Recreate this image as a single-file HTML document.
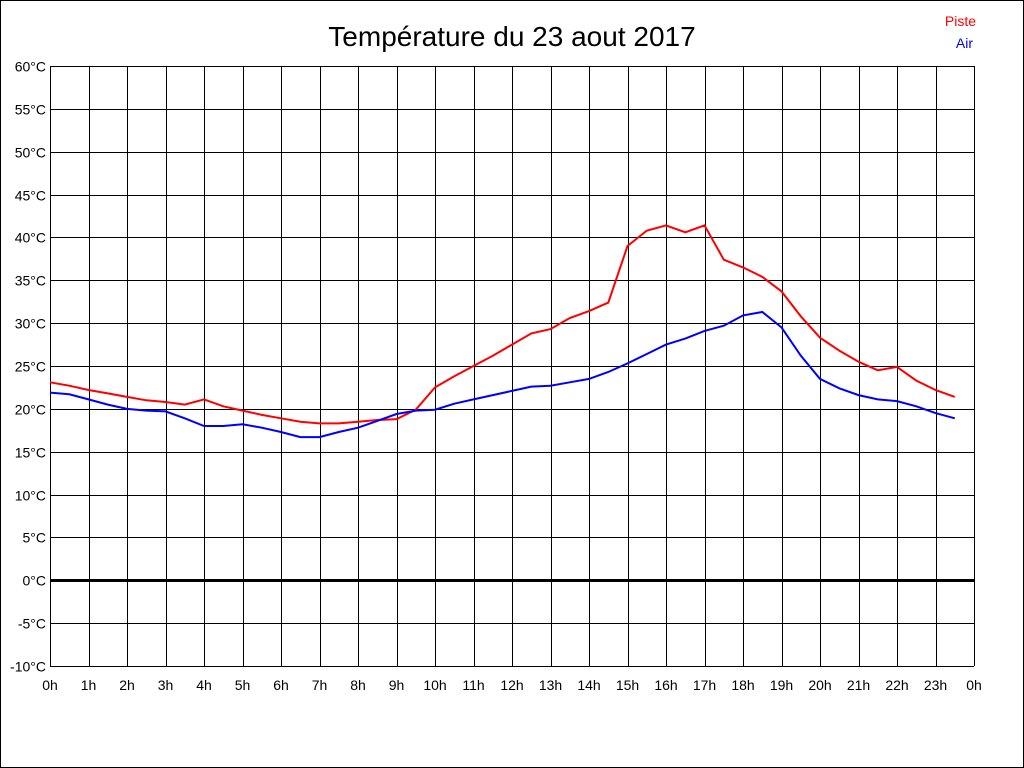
<!DOCTYPE html>
<html><head><meta charset="utf-8"><style>
html,body{margin:0;padding:0;background:#fff}
svg{display:block}
text{font-family:"Liberation Sans",sans-serif}
</style></head><body>
<svg id="s" width="1024" height="768" xmlns="http://www.w3.org/2000/svg">
<rect x="0.5" y="0.5" width="1023" height="767" fill="#fff" stroke="#000"/>
<text x="512" y="46" text-anchor="middle" font-size="28">Température du 23 aout 2017</text>
<text x="976" y="26" text-anchor="end" font-size="14" fill="#f00">Piste</text>
<text x="973" y="48" text-anchor="end" font-size="14" fill="#00f">Air</text>
<g id="g"></g>
</svg>
<script>
var g=document.getElementById('g'),h='';
var X0=50,X1=974,Y0=66,Y1=666;
function X(t){return X0+t*38.5}
function Y(v){return Y0+(60-v)*600/70}
for(var i=0;i<=24;i++){var x=Math.round(X(i))+0.5;h+='<line x1="'+x+'" y1="'+Y0+'" x2="'+x+'" y2="'+Y1+'" stroke="#000"/>';
h+='<text x="'+(X(i))+'" y="690" text-anchor="middle" font-size="14">'+(i%24)+'h</text>';}
for(var v=-10;v<=60;v+=5){var y=Math.round(Y(v))+0.5;h+='<line x1="'+X0+'" y1="'+y+'" x2="'+X1+'" y2="'+y+'" stroke="#000" stroke-width="'+(v==0?3:1)+'"/>';
h+='<text x="46" y="'+(y+5)+'" text-anchor="end" font-size="14">'+v+'°C</text>';}
var r=[23.1,22.7,22.2,21.8,21.4,21.0,20.8,20.5,21.1,20.3,19.8,19.3,18.9,18.5,18.3,18.3,18.5,18.7,18.8,19.9,22.5,23.8,25.0,26.2,27.5,28.8,29.3,30.6,31.4,32.4,39.0,40.8,41.4,40.6,41.4,37.4,36.5,35.4,33.7,30.8,28.3,26.8,25.5,24.5,24.9,23.3,22.2,21.4];
var b=[21.9,21.7,21.1,20.5,20.0,19.8,19.7,18.9,18.0,18.0,18.2,17.8,17.3,16.7,16.7,17.3,17.8,18.6,19.4,19.8,19.9,20.6,21.1,21.6,22.1,22.6,22.7,23.1,23.5,24.3,25.3,26.4,27.5,28.2,29.1,29.7,30.9,31.3,29.5,26.2,23.5,22.4,21.6,21.1,20.9,20.3,19.5,18.9];
function pl(a,c){return '<polyline fill="none" stroke="'+c+'" stroke-width="2" points="'+a.map(function(v,i){return X(i/2).toFixed(1)+','+Y(v).toFixed(1)}).join(' ')+'"/>'}
h+=pl(r,'#f00')+pl(b,'#00f');
g.innerHTML=h;
</script>
</body></html>
